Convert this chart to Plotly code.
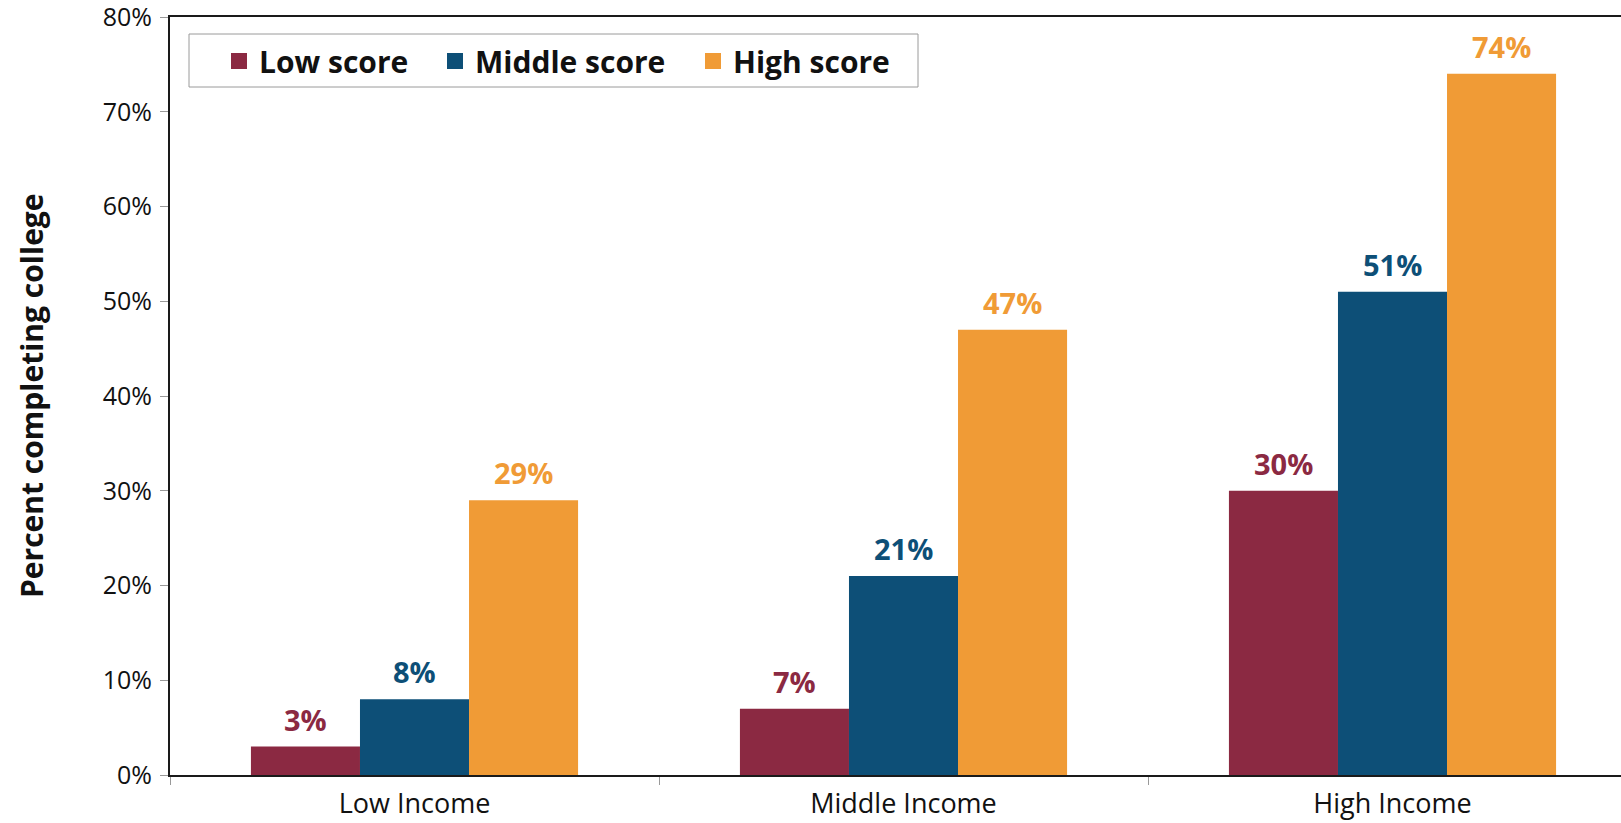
import plotly.graph_objects as go

# Completion rates by family income and test-score group
income_groups = ["Low Income", "Middle Income", "High Income"]
low_score = [3, 7, 30]
middle_score = [8, 21, 51]
high_score = [29, 47, 74]

series_names = ["Low score", "Middle score", "High score"]
series_colors = ["#8B2942", "#0D4F77", "#F09B36"]
series_values = [low_score, middle_score, high_score]
legend_entry_widths = [171, 213, 185]

y_ticks = [0, 10, 20, 30, 40, 50, 60, 70, 80]
y_tick_labels = [f"{v}%" for v in y_ticks]

FONT = "Open Sans"
W, H = 1621, 823
M_L, M_R, M_T, M_B = 170, 0, 17, 48
plot_w = W - M_L - M_R
plot_h = H - M_T - M_B
cat_px = 489  # width of one income group on screen
bargap = 0.331
x_span = plot_w / cat_px


def px_x(px):
    return (px - M_L) / plot_w


def px_y(py):
    return (H - M_B - py) / plot_h


fig = go.Figure()

for name, color, vals, lw in zip(series_names, series_colors, series_values, legend_entry_widths):
    fig.add_trace(go.Bar(
        x=income_groups, y=vals, name=name,
        marker=dict(color=color, line=dict(width=0)),
        showlegend=False,
    ))
    # legend proxy with a larger square swatch
    fig.add_trace(go.Scatter(
        x=[None], y=[None], mode="markers", name=name, legendwidth=lw,
        marker=dict(symbol="square", size=16, color=color),
    ))

# value labels above each bar
bar_w = (1 - bargap) / len(series_values)
annotations = []
for j, (color, vals) in enumerate(zip(series_colors, series_values)):
    for i, v in enumerate(vals):
        annotations.append(dict(
            x=i + (j - 1) * bar_w, y=v, xref="x", yref="y",
            text=f"{v}%", showarrow=False, yanchor="bottom", yshift=6,
            font=dict(family=FONT, size=29, color=color, weight="bold"),
        ))

# rotated y-axis title
annotations.append(dict(
    x=px_x(31), y=0.5, xref="paper", yref="paper",
    text="Percent completing college", textangle=-90, showarrow=False,
    xanchor="center", yanchor="middle",
    font=dict(family=FONT, size=30, color="#111", weight="bold"),
))

# frame around the legend
legend_frame = dict(
    type="rect", xref="paper", yref="paper",
    x0=px_x(189), x1=px_x(918), y0=px_y(87), y1=px_y(34),
    line=dict(color="#9a9a9a", width=1), fillcolor="white", layer="above",
)

fig.update_layout(
    width=W, height=H,
    margin=dict(l=M_L, r=M_R, t=M_T, b=M_B, pad=0),
    paper_bgcolor="white", plot_bgcolor="white",
    barmode="group", bargap=bargap, bargroupgap=0,
    font=dict(family=FONT, color="#111"),
    annotations=annotations,
    shapes=[legend_frame],
    legend=dict(
        orientation="h", x=px_x(219), y=px_y(35),
        xanchor="left", yanchor="top",
        bgcolor="rgba(0,0,0,0)", borderwidth=0,
        font=dict(family=FONT, size=30, color="#111", weight="bold"),
        itemwidth=30,
    ),
    xaxis=dict(
        type="category", range=[-0.5, -0.5 + x_span],
        showline=True, mirror=True, linecolor="#1a1a1a", linewidth=2,
        ticks="outside", tickson="boundaries", ticklen=8, tickcolor="#999", tickwidth=1,
        ticklabelstandoff=4,
        tickfont=dict(family=FONT, size=27, color="#111"),
        showgrid=False, zeroline=False, fixedrange=True,
    ),
    yaxis=dict(
        range=[0, 80], tickvals=y_ticks, ticktext=y_tick_labels,
        showline=True, linecolor="#1a1a1a", linewidth=2,
        ticks="outside", ticklen=8, tickcolor="#999", tickwidth=1,
        ticklabelstandoff=3, ticklabeloverflow="allow",
        tickfont=dict(family=FONT, size=25, color="#111"),
        showgrid=False, zeroline=False, fixedrange=True,
    ),
)

fig.write_html("out.html")
